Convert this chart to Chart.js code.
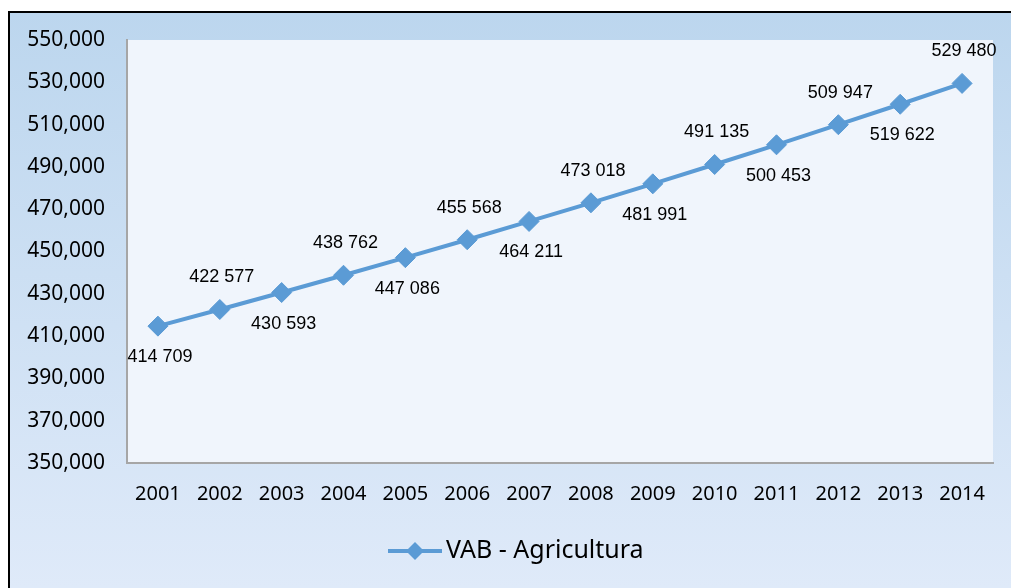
<!DOCTYPE html>
<html><head><meta charset="utf-8">
<script src="https://cdn.jsdelivr.net/npm/chart.js@4.4.1/dist/chart.umd.min.js"></script>
<style>html,body{margin:0;padding:0;background:#fff}#wrap{width:1011px;height:588px}</style>
</head><body><div id="wrap"><canvas id="c" width="1011" height="588"></canvas></div>
<script>
const categories = ['2001','2002','2003','2004','2005','2006','2007','2008','2009','2010','2011','2012','2013','2014'];
const vabAgricultura = [414709,422577,430593,438762,447086,455568,464211,473018,481991,491135,500453,509947,519622,529480];
const labelBelow = [true,false,true,false,true,false,true,false,true,false,true,false,true,false];
const seriesName = 'VAB - Agricultura';
const yMin = 350000, yMax = 550000, yStep = 20000;

const COLOR = '#5b9bd5';

const bgPlugin = {
  id: 'bg',
  beforeDraw(chart) {
    const {ctx, chartArea: a, width, height} = chart;
    ctx.save();
    ctx.fillStyle = '#ffffff';
    ctx.fillRect(0, 0, width, height);
    const g = ctx.createLinearGradient(0, 11, 0, height);
    g.addColorStop(0, '#bcd6ee');
    g.addColorStop(1, '#dfeaf9');
    ctx.fillStyle = g;
    ctx.fillRect(8, 11, width - 8, height - 11);
    ctx.strokeStyle = '#000';
    ctx.lineWidth = 2;
    ctx.beginPath();
    ctx.moveTo(9, height);
    ctx.lineTo(9, 12);
    ctx.lineTo(width, 12);
    ctx.stroke();
    ctx.fillStyle = '#f0f5fc';
    ctx.fillRect(a.left, a.top, a.right - a.left, a.bottom - a.top);
    ctx.restore();
  }
};

const labelPlugin = {
  id: 'vals',
  afterDatasetsDraw(chart) {
    const {ctx} = chart;
    const meta = chart.getDatasetMeta(0);
    ctx.save();
    ctx.font = '18px "Liberation Sans", Arial, sans-serif';
    ctx.fillStyle = '#000';
    ctx.textAlign = 'center';
    ctx.textBaseline = 'middle';
    meta.data.forEach((pt, i) => {
      const v = vabAgricultura[i];
      const s = String(v).replace(/\B(?=(\d{3})+(?!\d))/g, ' ');
      const dy = labelBelow[i] ? 31 : -32;
      ctx.fillText(s, pt.x + 2, pt.y + dy);
    });
    ctx.restore();
  }
};

const legendPlugin = {
  id: 'customLegend',
  afterDraw(chart) {
    const {ctx} = chart;
    ctx.save();
    const y = 551;
    ctx.strokeStyle = COLOR;
    ctx.lineWidth = 4;
    ctx.beginPath();
    ctx.moveTo(388, y);
    ctx.lineTo(442, y);
    ctx.stroke();
    ctx.fillStyle = COLOR;
    ctx.beginPath();
    ctx.moveTo(415, y - 9);
    ctx.lineTo(424, y);
    ctx.lineTo(415, y + 9);
    ctx.lineTo(406, y);
    ctx.closePath();
    ctx.fill();
    ctx.fillStyle = '#000';
    ctx.font = '25px "Noto Sans", sans-serif';
    ctx.textBaseline = 'middle';
    ctx.textAlign = 'left';
    ctx.fillText(seriesName, 446, y);
    ctx.restore();
  }
};

new Chart(document.getElementById('c'), {
  type: 'line',
  data: {
    labels: categories,
    datasets: [{
      label: seriesName,
      data: vabAgricultura,
      borderColor: COLOR,
      backgroundColor: COLOR,
      borderWidth: 4,
      pointStyle: 'rectRot',
      pointRadius: 10,
      pointBorderWidth: 1,
      pointBackgroundColor: COLOR,
      pointBorderColor: COLOR,
      tension: 0
    }]
  },
  options: {
    responsive: false,
    animation: false,
    devicePixelRatio: 1,
    layout: {padding: {left: 0, top: 40, right: 18, bottom: 75}},
    plugins: {legend: {display: false}, tooltip: {enabled: false}},
    scales: {
      x: {
        offset: true,
        grid: {display: false, drawTicks: false},
        border: {display: true, color: '#a6a6a6', width: 2},
        ticks: {color: '#000', padding: 19, font: {family: '"Noto Sans", sans-serif', size: 20}, maxRotation: 0, autoSkip: false},
        afterFit(s) { s.height = 50; }
      },
      y: {
        min: yMin, max: yMax,
        grid: {display: false, drawTicks: false},
        border: {display: true, color: '#a6a6a6', width: 2},
        ticks: {
          stepSize: yStep, color: '#000', padding: 22,
          font: {family: '"Noto Sans", sans-serif', size: 21},
          callback: v => v.toLocaleString('en-US')
        },
        afterFit(s) { s.width = 127; }
      }
    }
  },
  plugins: [bgPlugin, labelPlugin, legendPlugin]
});
</script></body></html>
